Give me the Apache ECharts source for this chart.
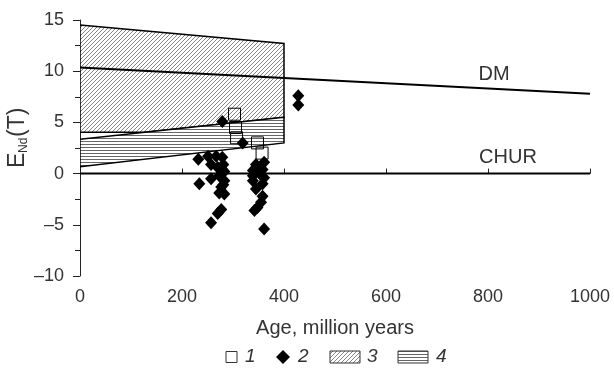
<!DOCTYPE html>
<html><head><meta charset="utf-8">
<script src="https://cdn.jsdelivr.net/npm/echarts@6/dist/echarts.min.js"></script>
<style>html,body{margin:0;padding:0;background:#fff}#c{width:614px;height:383px}</style>
</head><body><div id="c"></div>
<script>
// ---- data ----
const xTicks = [0, 200, 400, 600, 800, 1000];
const yTicks = [-10, -5, 0, 5, 10, 15];
const dmLine = [[0, 10.35], [1000, 7.8]];
const churLine = [[0, 0], [1000, 0]];
const field3 = [[0, 14.5], [400, 12.7], [400, 5.5], [126, 4.03], [0, 4.03]];
const field4 = [[0, 3.35], [400, 5.5], [400, 3.0], [0, 0.67]];
const squares = [[303, 5.8], [305, 4.5], [307, 3.5], [348, 3.0], [357, 2.0]];
const diamonds = [
  [232, 1.4], [251, 1.7], [267, 1.7], [279, 1.6], [257, 0.9], [270, 0.6], [281, 0.9],
  [283, 0.2], [273, -0.2], [257, -0.5], [234, -1.0], [283, -0.7], [277, -1.3], [283, -2.0],
  [273, -1.9], [281, -1.1], [279, 0.4], [277, -3.5], [270, -3.9], [257, -4.8], [279, 5.1],
  [319, 3.0],
  [345, 0.9], [361, 1.1], [339, 0.3], [358, 0.4], [339, -0.2], [352, 0.0], [361, -0.4],
  [339, -0.7], [358, -1.0], [345, -1.5], [358, -2.2], [355, -2.8], [342, -3.6], [348, -3.3],
  [361, -5.4], [350, 0.6],
  [428, 7.6], [428, 6.7]
];
const legendNames = ['1', '2', '3', '4'];
const curveNames = ['DM', 'CHUR'];

// ---- patterns ----
function diagTile() {
  const c = document.createElement('canvas'); c.width = 4; c.height = 4;
  const g = c.getContext('2d');
  g.fillStyle = '#fff'; g.fillRect(0, 0, 4, 4);
  g.strokeStyle = '#666'; g.lineWidth = 0.8;
  g.beginPath();
  g.moveTo(-1, 5); g.lineTo(5, -1);
  g.moveTo(-1, 1); g.lineTo(1, -1);
  g.moveTo(3, 5); g.lineTo(5, 3);
  g.stroke();
  return c;
}
function stripeTile() {
  const c = document.createElement('canvas'); c.width = 4; c.height = 3;
  const g = c.getContext('2d');
  g.fillStyle = '#fff'; g.fillRect(0, 0, 4, 3);
  g.fillStyle = '#666'; g.fillRect(0, 0, 4, 1);
  return c;
}
const pat3 = { image: diagTile(), repeat: 'repeat' };
const pat4 = { image: stripeTile(), repeat: 'repeat' };

const chart = echarts.init(document.getElementById('c'), null, { renderer: 'canvas' });

function polySeries(name, pts, fill) {
  return {
    name, type: 'custom', z: 1, clip: true,
    data: pts,
    encode: { x: 0, y: 1 },
    renderItem: function (params, api) {
      if (params.dataIndex !== 0) return null;
      const points = pts.map(p => api.coord(p));
      return { type: 'polygon', shape: { points }, style: { fill: fill, stroke: '#000', lineWidth: 1.5 } };
    }
  };
}

const TXT = '#333';
const F = 'Liberation Sans, Arial, sans-serif';
const option = {
  animation: false,
  backgroundColor: '#fff',
  grid: { left: 80, right: 24, top: 20, bottom: 107 },
  xAxis: {
    type: 'value', min: 0, max: 1000, interval: 200,
    axisLine: { lineStyle: { color: '#222', width: 1 } },
    axisTick: { inside: true, length: 5, lineStyle: { color: '#222' } },
    axisLabel: { fontSize: 18, color: TXT, margin: 12, fontFamily: F, formatter: v => String(v) },
    splitLine: { show: false },
    name: 'Age, million years', nameLocation: 'middle', nameGap: 42,
    nameTextStyle: { fontSize: 20, color: TXT, fontFamily: F }
  },
  yAxis: {
    type: 'value', min: -10, max: 15, interval: 5,
    axisLine: { show: true, lineStyle: { color: '#222', width: 1 } },
    axisTick: { show: true, length: 7, lineStyle: { color: '#222' } },
    minorTick: { show: true, splitNumber: 2, length: 5, lineStyle: { color: '#222' } },
    axisLabel: {
      fontSize: 18, color: TXT, margin: 16, fontFamily: F,
      formatter: v => (v < 0 ? '\u2013' + Math.abs(v) : String(v))
    },
    splitLine: { show: false }
  },
  series: [
    polySeries(legendNames[2], field3, pat3),
    polySeries(legendNames[3], field4, pat4),
    {
      name: curveNames[0], type: 'line', data: dmLine, symbol: 'none', z: 3,
      lineStyle: { color: '#000', width: 2 }
    },
    {
      name: curveNames[1], type: 'line', data: churLine, symbol: 'none', z: 3,
      lineStyle: { color: '#000', width: 2 }
    },
    {
      name: legendNames[0], type: 'scatter', data: squares, symbol: 'rect', symbolSize: 12, z: 4,
      itemStyle: { color: 'rgba(0,0,0,0)', borderColor: '#000', borderWidth: 1, opacity: 1 }
    },
    {
      name: legendNames[1], type: 'scatter', data: diamonds, symbol: 'diamond', symbolSize: [12, 13], z: 5,
      itemStyle: { color: '#000', opacity: 1 }
    }
  ]
};
chart.setOption(option);

// annotations (pixel layout)
const LY = 357;
const g = [
  { type: 'text', style: { text: curveNames[0], x: 494, y: 74, fontSize: 20, fill: TXT, fontFamily: F, align: 'center', verticalAlign: 'middle' } },
  { type: 'text', style: { text: curveNames[1], x: 508, y: 157, fontSize: 20, fill: TXT, fontFamily: F, align: 'center', verticalAlign: 'middle' } },
  {
    type: 'group', x: 18, y: 168, rotation: Math.PI / 2,
    children: [
      { type: 'text', style: { text: 'E', x: 0, y: 0, fontSize: 23, fill: TXT, fontFamily: F, align: 'left', verticalAlign: 'middle' } },
      { type: 'text', style: { text: 'Nd', x: 15, y: 6, fontSize: 12, fill: TXT, fontFamily: F, align: 'left', verticalAlign: 'middle' } },
      { type: 'text', style: { text: '(T)', x: 31, y: 0, fontSize: 23, fill: TXT, fontFamily: F, align: 'left', verticalAlign: 'middle' } }
    ]
  },
  // legend
  { type: 'rect', shape: { x: 226, y: LY - 5.5, width: 11, height: 11 }, style: { fill: '#fff', stroke: '#333', lineWidth: 1 } },
  { type: 'text', style: { text: legendNames[0], x: 245, y: LY, fontSize: 19, fontStyle: 'italic', fill: TXT, fontFamily: F, verticalAlign: 'middle' } },
  { type: 'polygon', shape: { points: [[283, LY - 7], [290, LY], [283, LY + 7], [276, LY]] }, style: { fill: '#000' } },
  { type: 'text', style: { text: legendNames[1], x: 298, y: LY, fontSize: 19, fontStyle: 'italic', fill: TXT, fontFamily: F, verticalAlign: 'middle' } },
  { type: 'rect', shape: { x: 330, y: LY - 6, width: 30, height: 12 }, style: { fill: pat3, stroke: '#333', lineWidth: 1 } },
  { type: 'text', style: { text: legendNames[2], x: 367, y: LY, fontSize: 19, fontStyle: 'italic', fill: TXT, fontFamily: F, verticalAlign: 'middle' } },
  { type: 'rect', shape: { x: 398, y: LY - 6, width: 30, height: 12 }, style: { fill: pat4, stroke: '#333', lineWidth: 1 } },
  { type: 'text', style: { text: legendNames[3], x: 436, y: LY, fontSize: 19, fontStyle: 'italic', fill: TXT, fontFamily: F, verticalAlign: 'middle' } }
];
chart.setOption({ graphic: g });
</script>
</body></html>
